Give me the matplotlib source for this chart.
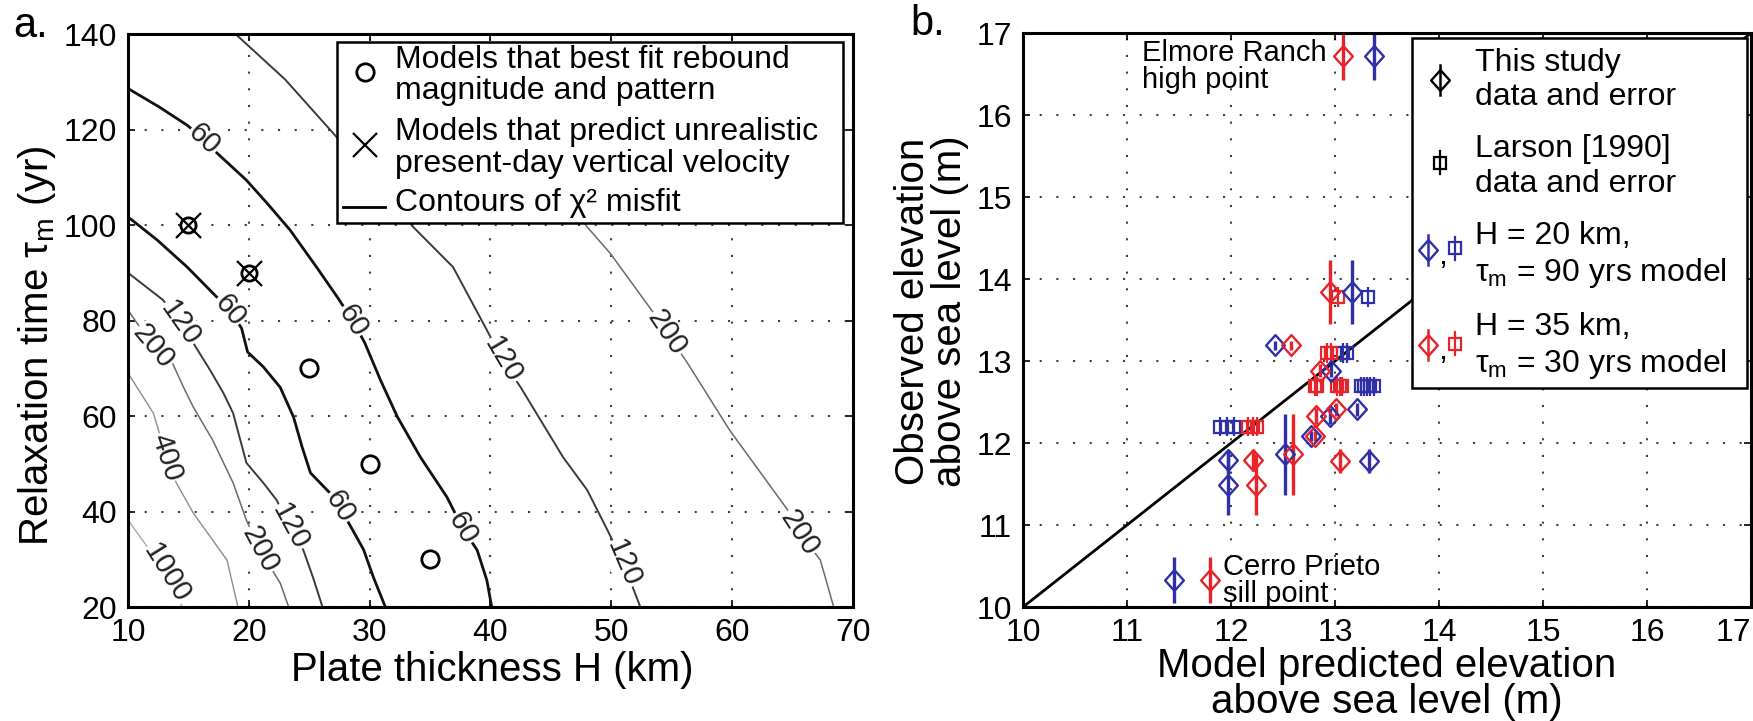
import numpy as np
import matplotlib.pyplot as plt
from matplotlib.path import Path
from matplotlib.patches import Rectangle

plt.rcParams['font.family'] = ['Liberation Sans', 'DejaVu Sans']
plt.rcParams['mathtext.fontset'] = 'custom'
plt.rcParams['mathtext.rm'] = 'Liberation Sans'
plt.rcParams['mathtext.it'] = 'Liberation Sans:italic'

# ---------------- (a) chi^2 misfit contours: plate thickness H (km) vs tau_m (yr)
c60a_H = [10.0, 12.6, 14.9, 16.3, 17.1, 19.8, 21.5, 23.4, 25.6, 27.3, 28.6, 29.6,
          30.9, 32.3, 34.2, 36.4, 37.7, 38.9, 39.7, 40.1]
c60a_tau = [128.6, 124.7, 120.9, 117.9, 115.7, 109.4, 104.6, 99.0, 91.2, 85.0, 80.0, 75.3,
            67.5, 59.8, 51.4, 43.0, 36.5, 31.9, 25.6, 20.0]

c60b_H = [10.0, 12.4, 14.9, 17.0, 18.4, 19.4, 19.9, 21.2, 22.6, 23.7, 24.4, 25.1,
          26.7, 27.5, 28.6, 29.5, 30.3, 31.3]
c60b_tau = [101.7, 96.9, 91.2, 85.8, 82.2, 78.4, 73.4, 70.3, 66.0, 59.8, 53.6, 48.1,
            43.9, 41.0, 36.1, 32.0, 26.3, 20.0]

c120a_H = [10.0, 12.9, 14.3, 15.4, 16.8, 17.9, 18.7, 19.8, 21.2, 22.3, 23.4, 24.5, 25.3, 26.1]
c120a_tau = [90.0, 84.3, 79.5, 75.3, 69.6, 64.8, 60.6, 50.2, 46.0, 42.4, 36.8, 32.0, 26.3, 20.0]

c120b_H = [18.9, 23.0, 27.1, 33.6, 36.9, 39.7, 41.0, 42.5, 46.0, 48.0, 49.7, 51.0, 52.4]
c120b_tau = [140.0, 130.5, 118.9, 99.6, 91.2, 78.0, 71.7, 66.0, 51.4, 44.5, 36.0, 29.2, 20.0]

c200a_H = [10.0, 12.1, 13.7, 14.6, 15.4, 17.0, 18.7, 19.8, 20.9, 22.6, 23.3]
c200a_tau = [82.2, 74.5, 71.0, 66.0, 61.9, 55.0, 46.0, 38.2, 32.0, 25.0, 20.0]

c200b_H = [36.5, 48.0, 49.9, 53.5, 54.6, 56.3, 59.8, 64.6, 65.6, 67.3, 68.4]
c200b_tau = [138.0, 99.6, 94.1, 81.6, 77.4, 71.1, 57.0, 40.3, 35.5, 29.8, 20.0]

c400_H = [10.0, 12.1, 13.2, 14.0, 15.4, 18.2, 19.1]
c400_tau = [69.0, 60.6, 51.4, 46.0, 39.7, 29.8, 20.0]

c1000_H = [10.0, 13.2, 14.5]
c1000_tau = [38.2, 27.0, 20.0]

best_fit_H = [25, 30, 35]
best_fit_tau = [70, 50, 30]
unrealistic_H = [15, 20]
unrealistic_tau = [100, 90]

# ---------------- (b) observed vs model-predicted shoreline elevation (m)
study_obs = [16.72, 13.84, 13.19, 12.88, 12.41, 12.33, 12.09, 11.86, 11.79, 11.78, 11.49, 10.33]
study_err = [0.29, 0.39, 0.05, 0.08, 0.08, 0.10, 0.06, 0.49, 0.13, 0.15, 0.37, 0.28]
study_h20 = [13.37, 13.16, 12.42, 12.96, 13.21, 12.95, 12.77, 12.52, 11.97, 13.33, 11.97, 11.45]
study_h35 = [13.08, 12.95, 12.58, 12.86, 13.01, 12.82, 12.81, 12.60, 12.21, 13.05, 12.24, 11.80]

larson_obs = [13.78, 13.10, 13.10, 12.69, 12.69, 12.69, 12.69, 12.69, 12.20, 12.20, 12.20]
larson_err = [0.12] * 11
larson_h20 = [13.32, 13.08, 13.11, 13.25, 13.28, 13.31, 13.34, 13.37, 11.89, 11.96, 12.03]
larson_h35 = [13.03, 12.92, 12.96, 12.81, 12.83, 13.02, 13.05, 13.07, 12.16, 12.21, 12.25]

one_to_one = [10, 17]

blue = '#2f2fa8'
red = '#e8232a'

contours = [
    (60, c60a_H, c60a_tau, [3, 10, 16]),
    (60, c60b_H, c60b_tau, [4, 13]),
    (120, c120a_H, c120a_tau, [2, 10]),
    (120, c120b_H, c120b_tau, [6, 11]),
    (200, c200a_H, c200a_tau, [1, 8]),
    (200, c200b_H, c200b_tau, [4, 8]),
    (400, c400_H, c400_tau, [2]),
    (1000, c1000_H, c1000_tau, [1]),
]
level_style = {60: ('#111111', 2.0), 120: ('#3a3a3a', 1.4), 200: ('#6a6a6a', 1.1),
               400: ('#8c8c8c', 1.0), 1000: ('#ababab', 1.0)}


def style_axes(ax):
    ax.grid(True, linestyle=(0, (1, 7)), color='0.25', lw=1.5)
    ax.set_axisbelow(True)
    ax.tick_params(direction='in', top=True, right=True, length=5, width=1.2,
                   labelsize=23, pad=8)
    for s in ax.spines.values():
        s.set_linewidth(2.2)
        s.set_zorder(6)


def draw_contour(ax, level, H, tau, label_at):
    color, lw = level_style[level]
    ax.plot(H, tau, color=color, lw=lw, zorder=3)
    pts = ax.transData.transform(np.column_stack([H, tau]))
    for i in label_at:
        j0, j1 = max(i - 1, 0), min(i + 1, len(H) - 1)
        dx, dy = pts[j1] - pts[j0]
        ang = np.degrees(np.arctan2(dy, dx))
        if ang > 90:
            ang -= 180
        if ang < -90:
            ang += 180
        ax.text(H[i], tau[i], str(level), rotation=ang, rotation_mode='anchor',
                ha='center', va='center', fontsize=21, color='#222222', zorder=4,
                bbox=dict(fc='white', ec='none', pad=0.6))


fig = plt.figure(figsize=(17.53, 7.21), dpi=100)

# ---------------- panel a
ax1 = fig.add_axes([0.0730, 0.1581, 0.4136, 0.7947])
ax1.set_xlim(10, 70)
ax1.set_ylim(20, 140)
ax1.set_xticks(range(10, 71, 10))
ax1.set_yticks(range(20, 141, 20))
style_axes(ax1)

for level, H, tau, lab in contours:
    draw_contour(ax1, level, H, tau, lab)

ax1.plot(best_fit_H, best_fit_tau, ls='none', marker='o', ms=12.5, mfc='none',
         mec='black', mew=2, zorder=5)
ax1.plot(unrealistic_H, unrealistic_tau, ls='none', marker='o', ms=11, mfc='none',
         mec='black', mew=2, zorder=5)
ax1.plot(unrealistic_H, unrealistic_tau, ls='none', marker='x', ms=18,
         mec='black', mew=1.6, zorder=5)

ax1.set_xlabel('Plate thickness H (km)', fontsize=29, va='center')
ax1.xaxis.set_label_coords(0.502, -0.11)
ax1.set_ylabel('Relaxation time τ$_{\\rm m}$ (yr)', fontsize=29, va='center')
ax1.yaxis.set_label_coords(-0.126, 0.456)

# legend box
lt = ax1.transAxes
ax1.add_patch(Rectangle((0.288, 0.670), 0.698, 0.316, transform=lt, fc='white',
                        ec='black', lw=1.8, zorder=10))
ax1.plot([0.327], [0.934], transform=lt, marker='o', ms=12.5, mfc='none', mec='black',
         mew=2, zorder=11)
ax1.plot([0.327], [0.806], transform=lt, marker='x', ms=17, mec='black', mew=1.6,
         zorder=11)
ax1.plot([0.297, 0.354], [0.698, 0.698], transform=lt, color='black', lw=2, zorder=11)
leg_a = [(0.927, 'Models that best fit rebound\nmagnitude and pattern'),
         (0.801, 'Models that predict unrealistic\npresent-day vertical velocity'),
         (0.705, 'Contours of χ² misfit')]
for fy, txt in leg_a:
    ax1.text(0.368, fy, txt, transform=lt, fontsize=23, va='center', ha='left',
             linespacing=1.05, zorder=11)

fig.text(13 / 1753, 1 - 37 / 721, 'a.', fontsize=30, va='baseline', ha='left')

# ---------------- panel b
ax2 = fig.add_axes([0.5836, 0.1581, 0.4153, 0.7961])
ax2.set_xlim(10, 17)
ax2.set_ylim(10, 17)
ax2.set_xticks(range(10, 18))
ax2.set_yticks(range(10, 18))
style_axes(ax2)
# keep the last x tick label inside the figure
ax2.get_xticklabels()[-1].set_ha('right')

ax2.plot(one_to_one, one_to_one, color='black', lw=2, zorder=2)

diamond = Path([(0, -1), (0.9, 0), (0, 1), (-0.9, 0), (0, -1)],
               [Path.MOVETO, Path.LINETO, Path.LINETO, Path.LINETO, Path.CLOSEPOLY])

for xs, col in [(larson_h20, blue), (larson_h35, red)]:
    ax2.errorbar(xs, larson_obs, yerr=larson_err, fmt='none', ecolor=col,
                 elinewidth=1.6, capsize=0, zorder=3)
    ax2.plot(xs, larson_obs, ls='none', marker='s', ms=9, mfc='none', mec=col,
             mew=1.6, zorder=4)
for xs, col in [(study_h20, blue), (study_h35, red)]:
    ax2.errorbar(xs, study_obs, yerr=study_err, fmt='none', ecolor=col,
                 elinewidth=2.4, capsize=0, zorder=3)
    ax2.plot(xs, study_obs, ls='none', marker=diamond, ms=15, mfc='none', mec=col,
             mew=1.7, zorder=4)

ax2.text(11.14, 16.93, 'Elmore Ranch\nhigh point', fontsize=21, ha='left', va='top',
         linespacing=0.95, zorder=5)
ax2.text(11.92, 10.66, 'Cerro Prieto\nsill point', fontsize=21, ha='left', va='top',
         linespacing=0.95, zorder=5)

ax2.set_xlabel('Model predicted elevation\nabove sea level (m)', fontsize=29,
               va='center', linespacing=0.95)
ax2.xaxis.set_label_coords(0.5, -0.134)
ax2.set_ylabel('Observed elevation\nabove sea level (m)', fontsize=29, va='center',
               linespacing=0.95)
ax2.yaxis.set_label_coords(-0.126, 0.515)

# legend box
bt = ax2.transAxes
ax2.add_patch(Rectangle((0.534, 0.3815), 0.4605, 0.6095, transform=bt, fc='white',
                        ec='black', lw=1.8, zorder=10))


def legend_diamond(fx, fy, col):
    ax2.plot([fx, fx], [fy - 0.026, fy + 0.026], transform=bt, color=col, lw=1.8,
             zorder=11)
    ax2.plot([fx], [fy], transform=bt, marker=diamond, ms=15, mfc='none', mec=col,
             mew=1.7, zorder=11)


def legend_square(fx, fy, col):
    ax2.plot([fx, fx], [fy - 0.02, fy + 0.02], transform=bt, color=col, lw=1.6,
             zorder=11)
    ax2.plot([fx], [fy], transform=bt, marker='s', ms=9, mfc='none', mec=col,
             mew=1.6, zorder=11)


legend_diamond(0.573, 0.918, 'black')
legend_square(0.573, 0.774, 'black')
legend_diamond(0.556, 0.622, blue)
legend_square(0.593, 0.625, blue)
legend_diamond(0.556, 0.456, red)
legend_square(0.593, 0.459, red)
ax2.text(0.576, 0.612, ',', transform=bt, fontsize=23, ha='center', va='center', zorder=11)
ax2.text(0.576, 0.446, ',', transform=bt, fontsize=23, ha='center', va='center', zorder=11)

leg_b = [(0.918, 'This study\ndata and error'),
         (0.767, 'Larson [1990]\ndata and error'),
         (0.613, 'H = 20 km,\nτ$_{\\rm m}$ = 90 yrs model'),
         (0.453, 'H = 35 km,\nτ$_{\\rm m}$ = 30 yrs model')]
for fy, txt in leg_b:
    ax2.text(0.621, fy, txt, transform=bt, fontsize=23, va='center', ha='left',
             linespacing=1.2, zorder=11)

fig.text(910 / 1753, 1 - 35 / 721, 'b.', fontsize=30, va='baseline', ha='left')

fig.savefig('out.png', dpi=100)
